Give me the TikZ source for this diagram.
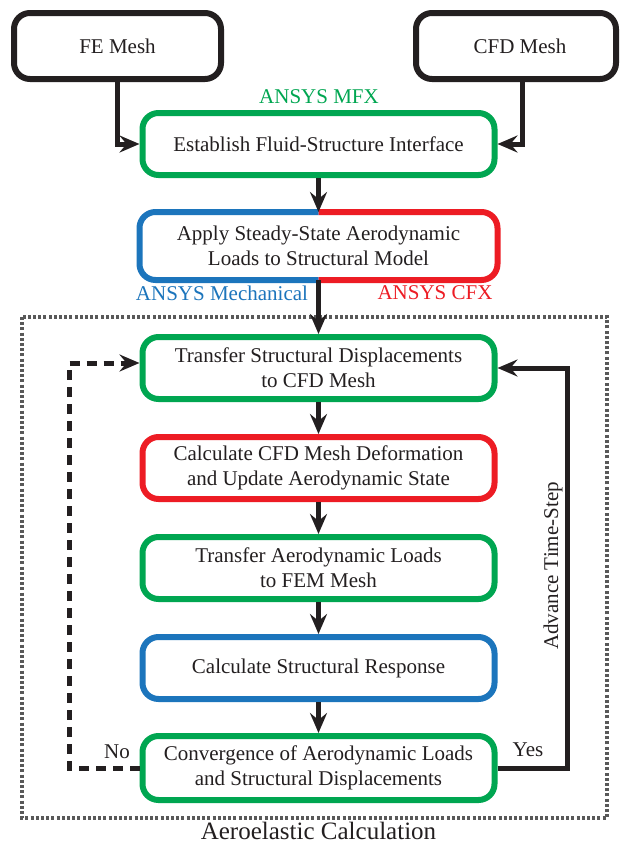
\documentclass[tikz,border=0pt]{standalone}
\usepackage{fontspec}
\setmainfont{Liberation Serif}
\usetikzlibrary{arrows.meta}
\definecolor{fgreen}{HTML}{00A651}
\definecolor{fblue}{HTML}{1C75BC}
\definecolor{fred}{HTML}{ED1C24}
\definecolor{ink}{HTML}{231F20}
\begin{document}
\begin{tikzpicture}[x=1pt,y=-1pt,
  box/.style={draw, line width=6pt, rounded corners=16pt, minimum width=352pt, minimum height=62pt,
    align=center, inner sep=0pt, text=ink, font=\fontsize{21}{25}\selectfont},
  inbox/.style={box, draw=ink, minimum height=66pt},
  lbl/.style={inner sep=0pt, text=ink, font=\fontsize{21}{25}\selectfont},
  arr/.style={draw=ink, line width=5pt, -{Stealth[length=20pt,width=17pt,inset=7pt]}},
  arrd/.style={arr, dash pattern=on 10pt off 7pt}]
\clip (0,0) rectangle (619,844);
\fill[white] (0,0) rectangle (619,844);

% inputs
\node (fe)  [inbox, minimum width=207pt] at (117.5,46) {FE Mesh};
\node (cfd) [inbox, minimum width=200pt] at (516,46) {\hspace*{8pt}CFD Mesh};

% setup
\node (mfx) [lbl, text=fgreen] at (319,97) {ANSYS MFX};
\node (est) [box, draw=fgreen] at (318.5,144) {Establish Fluid-Structure Interface};
\node (apply) [box, draw=none] at (318.5,246) {Apply Steady-State Aerodynamic\\Loads to Structural Model};
\draw[fblue, line width=6pt, rounded corners=16pt] (apply.north) -- (apply.north west) -- (apply.south west) -- (apply.south);
\draw[fred, line width=6pt, rounded corners=16pt] (apply.north) -- (apply.north east) -- (apply.south east) -- (apply.south);
\node (mech) [lbl, text=fblue] at (222,293) {ANSYS Mechanical};
\node (cfx)  [lbl, text=fred] at (435,293) {ANSYS CFX};

% frame
\draw[black!65, line width=3.5pt, dash pattern=on 3pt off 2.2pt] (22,317) rectangle (607,818);
\node (aero) [lbl, font=\fontsize{25}{30}\selectfont] at (318.5,831) {Aeroelastic Calculation};

% loop
\node (t1)   [box, draw=fgreen] at (318.5,368) {Transfer Structural Displacements\\to CFD Mesh};
\node (def)  [box, draw=fred]   at (318.5,468) {Calculate CFD Mesh Deformation\\and Update Aerodynamic State};
\node (t2)   [box, draw=fgreen] at (318.5,568) {Transfer Aerodynamic Loads\\to FEM Mesh};
\node (resp) [box, draw=fblue]  at (318.5,668) {Calculate Structural Response};
\node (conv) [box, draw=fgreen, minimum height=64pt] at (318.5,768) {Convergence of Aerodynamic Loads\\and Structural Displacements};

% connectors
\draw[arr] (fe.south) |- (est.west);
\draw[arr] ([xshift=6pt]cfd.south) |- (est.east);
\draw[arr] (est) -- (apply);
\draw[arr] (apply) -- (t1);
\draw[arr] (t1) -- (def);
\draw[arr] (def) -- (t2);
\draw[arr] (t2) -- (resp);
\draw[arr] (resp) -- (conv);

\coordinate (ycol) at (567,560);
\coordinate (ncol) at (69,560);
\draw[arr] (conv.east) -| (ycol) |- (t1.east);
\draw[arrd] (conv.west) -| (ncol) |- ([yshift=5pt]t1.west);

\node (yes) [lbl] at (528,750) {Yes};
\node (no)  [lbl] at (117,752) {No};
\node (adv) [lbl, rotate=90] at (553,566) {Advance Time-Step};
\end{tikzpicture}
\end{document}
